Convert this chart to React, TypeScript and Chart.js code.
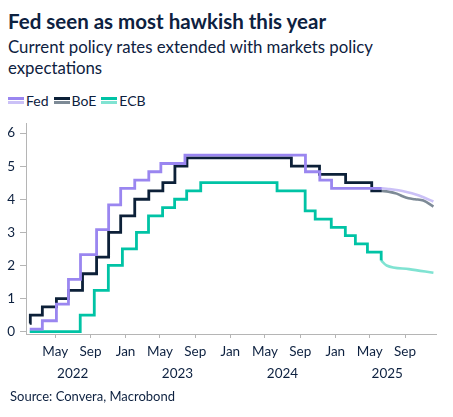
import React, { useEffect, useRef } from "react";
import { Chart, registerables } from "chart.js";

Chart.register(...registerables);

// ---- Data ----
const fedDates = [
  "2022-02-01", "2022-03-17", "2022-05-05", "2022-06-16", "2022-07-28", "2022-09-22",
  "2022-11-03", "2022-12-15", "2023-02-02", "2023-03-23", "2023-05-04", "2023-07-27",
  "2024-09-19", "2024-11-08", "2024-12-19", "2025-06-12",
];
const fedRates = [0.08, 0.33, 0.83, 1.58, 2.33, 3.08, 3.83, 4.33, 4.58, 4.83, 5.08, 5.33, 4.83, 4.58, 4.33, 4.33];

const fedFcDates = ["2025-06-12", "2025-07-05", "2025-08-09", "2025-09-10", "2025-10-06", "2025-11-04", "2025-12-09"];
const fedFcRates = [4.33, 4.31, 4.27, 4.21, 4.15, 4.06, 3.93];

const boeDates = [
  "2022-02-01", "2022-02-03", "2022-03-17", "2022-05-05", "2022-06-16", "2022-08-04",
  "2022-09-22", "2022-11-03", "2022-12-15", "2023-02-02", "2023-03-23", "2023-05-11",
  "2023-06-22", "2023-08-03", "2024-08-01", "2024-11-07", "2025-02-06", "2025-05-08", "2025-06-12",
];
const boeRates = [0.25, 0.5, 0.75, 1.0, 1.25, 1.75, 2.25, 3.0, 3.5, 4.0, 4.25, 4.5, 5.0, 5.25, 5.0, 4.75, 4.5, 4.25, 4.25];

const boeFcDates = ["2025-06-12", "2025-07-05", "2025-08-03", "2025-08-21", "2025-09-13", "2025-10-06", "2025-11-04", "2025-12-09"];
const boeFcRates = [4.25, 4.23, 4.17, 4.1, 4.03, 4.0, 3.96, 3.78];

const ecbDates = [
  "2022-02-01", "2022-07-27", "2022-09-14", "2022-11-02", "2022-12-21", "2023-02-08",
  "2023-03-22", "2023-05-10", "2023-06-21", "2023-08-02", "2023-09-20", "2024-06-12",
  "2024-09-18", "2024-10-23", "2024-12-18", "2025-02-05", "2025-03-12", "2025-04-23", "2025-06-10",
];
const ecbRates = [0, 0.5, 1.25, 2.0, 2.5, 3.0, 3.5, 3.75, 4.0, 4.25, 4.5, 4.25, 3.65, 3.4, 3.15, 2.9, 2.65, 2.4, 2.15];

const ecbFcDates = ["2025-06-10", "2025-06-29", "2025-09-15", "2025-12-09"];
const ecbFcRates = [2.15, 2.0, 1.89, 1.78];

const monthTickDates = [
  "2022-05-01", "2022-09-01", "2023-01-01", "2023-05-01", "2023-09-01", "2024-01-01",
  "2024-05-01", "2024-09-01", "2025-01-01", "2025-05-01", "2025-09-01",
];
const monthTickLabels = ["May", "Sep", "Jan", "May", "Sep", "Jan", "May", "Sep", "Jan", "May", "Sep"];
const yearTickDates = ["2022-07-01", "2023-07-01", "2024-07-01", "2025-07-01"];
const yearTickLabels = ["2022", "2023", "2024", "2025"];
const yTicks = [0, 1, 2, 3, 4, 5, 6];

const xMinDate = "2022-01-19";
const xMaxDate = "2025-12-18";

// ---- Styles ----
const NAVY = "#0d2140";
const FONT = "Lato, 'Open Sans', sans-serif";
const AXIS = "#b5b5b5";

const COLORS = {
  fed: "#9a86f0",
  fedFc: "#cbc1f7",
  boe: "#0c2038",
  boeFc: "#7d8a96",
  ecb: "#00c3a5",
  ecbFc: "#80e3d2",
};

const toPts = (dates: string[], vals: number[]) =>
  dates.map((d, i) => ({ x: Date.parse(d), y: vals[i] }));

function LegendItem({ label, top, bottom }: { label: string; top: string; bottom: string }) {
  return (
    <span style={{ display: "inline-flex", alignItems: "center", marginRight: 5 }}>
      <span style={{ display: "inline-block", width: 16, marginRight: 2 }}>
        <span style={{ display: "block", height: 3, background: top }} />
        <span style={{ display: "block", height: 1.5 }} />
        <span style={{ display: "block", height: 3, background: bottom }} />
      </span>
      <span>{label}</span>
    </span>
  );
}

export default function App() {
  const ref = useRef<HTMLCanvasElement | null>(null);

  useEffect(() => {
    if (!ref.current) return;
    const monthTimes = monthTickDates.map((d) => Date.parse(d));
    const yearTimes = yearTickDates.map((d) => Date.parse(d));
    const xMin = Date.parse(xMinDate);
    const xMax = Date.parse(xMaxDate);

    const base = {
      pointRadius: 0,
      pointHoverRadius: 0,
      fill: false,
      borderCapStyle: "butt" as const,
      borderJoinStyle: "miter" as const,
      xAxisID: "x",
    };

    const chart = new Chart(ref.current, {
      type: "line",
      data: {
        datasets: [
          { ...base, label: "Fed fc", data: toPts(fedFcDates, fedFcRates), borderColor: COLORS.fedFc, borderWidth: 2.6, cubicInterpolationMode: "monotone", order: 1 },
          { ...base, label: "Fed", data: toPts(fedDates, fedRates), borderColor: COLORS.fed, borderWidth: 2.8, stepped: "before", order: 0 },
          { ...base, label: "BoE fc", data: toPts(boeFcDates, boeFcRates), borderColor: COLORS.boeFc, borderWidth: 2.6, cubicInterpolationMode: "monotone", order: 3 },
          { ...base, label: "BoE", data: toPts(boeDates, boeRates), borderColor: COLORS.boe, borderWidth: 2.8, stepped: "before", order: 2 },
          { ...base, label: "ECB fc", data: toPts(ecbFcDates, ecbFcRates), borderColor: COLORS.ecbFc, borderWidth: 2.6, cubicInterpolationMode: "monotone", order: 5 },
          { ...base, label: "ECB", data: toPts(ecbDates, ecbRates), borderColor: COLORS.ecb, borderWidth: 2.8, stepped: "before", order: 4 },
        ],
      },
      options: {
        animation: false,
        responsive: false,
        maintainAspectRatio: false,
        parsing: false,
        normalized: true,
        layout: { padding: { top: 9, right: 17, left: 0, bottom: 0 } },
        plugins: {
          legend: { display: false },
          tooltip: { enabled: false },
          title: { display: false },
        },
        scales: {
          x: {
            type: "linear",
            position: "bottom",
            min: xMin,
            max: xMax,
            clip: false,
            afterBuildTicks: (scale: any) => {
              scale.ticks = monthTimes.map((v) => ({ value: v }));
            },
            afterFit: (scale: any) => {
              scale.height = 26;
            },
            ticks: {
              autoSkip: false,
              maxRotation: 0,
              padding: 6,
              color: NAVY,
              font: { family: FONT, size: 13.5 },
              callback: (value: any) => {
                const i = monthTimes.indexOf(Number(value));
                return i >= 0 ? monthTickLabels[i] : "";
              },
            },
            grid: { drawOnChartArea: false, drawTicks: true, tickLength: 4, color: AXIS },
            border: { display: true, color: AXIS, width: 1 },
          },
          x2: {
            type: "linear",
            position: "bottom",
            min: xMin,
            max: xMax,
            clip: false,
            afterBuildTicks: (scale: any) => {
              scale.ticks = yearTimes.map((v) => ({ value: v }));
            },
            afterFit: (scale: any) => {
              scale.height = 30;
            },
            ticks: {
              autoSkip: false,
              maxRotation: 0,
              padding: -2,
              color: NAVY,
              font: { family: FONT, size: 13.5 },
              callback: (value: any) => {
                const i = yearTimes.indexOf(Number(value));
                return i >= 0 ? yearTickLabels[i] : "";
              },
            },
            grid: { display: false },
            border: { display: false },
          },
          y: {
            type: "linear",
            min: -0.07,
            max: 6.3,
            afterBuildTicks: (scale: any) => {
              scale.ticks = yTicks.map((v) => ({ value: v }));
            },
            afterFit: (scale: any) => {
              scale.width = 26;
            },
            ticks: {
              padding: 5,
              color: NAVY,
              font: { family: FONT, size: 13.5 },
              callback: (value: any) => String(value),
            },
            grid: { drawOnChartArea: false, drawTicks: true, tickLength: 6, color: AXIS },
            border: { display: true, color: AXIS, width: 1 },
          },
        },
      },
    });
    return () => chart.destroy();
  }, []);

  return (
    <div
      style={{
        position: "absolute",
        left: 0,
        top: 0,
        width: 453,
        height: 417,
        background: "#ffffff",
        fontFamily: FONT,
        color: NAVY,
        overflow: "hidden",
      }}
    >
      <div style={{ position: "absolute", left: 8, top: 9.3, fontSize: 20.5, lineHeight: "25px", fontWeight: 700, whiteSpace: "nowrap" }}>
        Fed seen as most hawkish this year
      </div>
      <div style={{ position: "absolute", left: 8, top: 36.3, fontSize: 16.8, lineHeight: "21px", whiteSpace: "nowrap" }}>
        Current policy rates extended with markets policy
        <br />
        expectations
      </div>
      <div style={{ position: "absolute", left: 8, top: 92, fontSize: 14, lineHeight: "17px", whiteSpace: "nowrap", display: "flex" }}>
        <LegendItem label="Fed" top={COLORS.fed} bottom={COLORS.fedFc} />
        <LegendItem label="BoE" top={COLORS.boe} bottom={COLORS.boeFc} />
        <LegendItem label="ECB" top={COLORS.ecb} bottom={COLORS.ecbFc} />
      </div>
      <canvas
        ref={ref}
        width={453}
        height={280}
        style={{ position: "absolute", left: 0, top: 110, width: 453, height: 280 }}
      />
      <div style={{ position: "absolute", left: 10, top: 389.2, fontSize: 13, lineHeight: "15px", whiteSpace: "nowrap" }}>
        Source: Convera, Macrobond
      </div>
    </div>
  );
}
